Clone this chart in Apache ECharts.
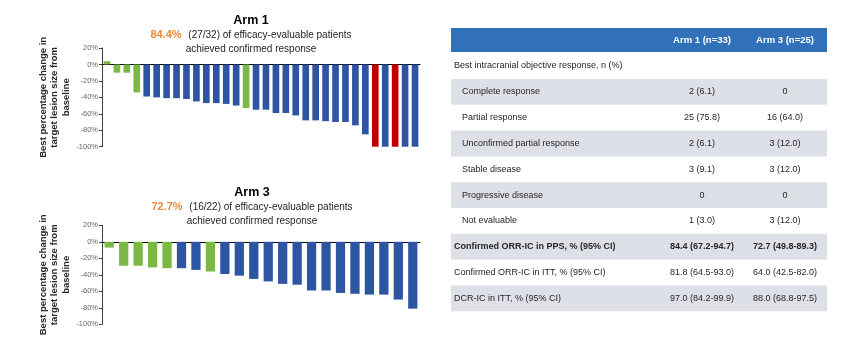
<!DOCTYPE html>
<html>
<head>
<meta charset="utf-8">
<script src="https://cdn.jsdelivr.net/npm/echarts@6/dist/echarts.min.js"></script>
<style>
  html, body { margin: 0; padding: 0; background: #fff; }
  #main { width: 850px; height: 353px; }
</style>
</head>
<body>
<div id="main"></div>
<script>
var mychart = echarts.init(document.getElementById('main'));

// Best % change per patient, sorted (waterfall)
var arm1Values = [4, -10, -10, -34, -39, -40, -41, -41, -42, -45, -47, -47, -48, -50, -53, -55,
  -55, -59, -59, -62, -68, -68, -69, -70, -70, -74, -85, -100, -100, -100, -100, -100];
var arm1Resp = ['NR', 'NR', 'NR', 'NR', 'PR', 'PR', 'PR', 'PR', 'PR', 'PR', 'PR', 'PR', 'PR', 'PR', 'NR', 'PR',
  'PR', 'PR', 'PR', 'PR', 'PR', 'PR', 'PR', 'PR', 'PR', 'PR', 'PR', 'CR', 'PR', 'CR', 'PR', 'PR'];
var arm3Values = [-7, -29, -29, -31, -32, -32, -34, -36, -39, -41, -45, -48, -51, -52, -59, -59,
  -62, -63, -64, -64, -70, -81];
var arm3Resp = ['NR', 'NR', 'NR', 'NR', 'NR', 'PR', 'PR', 'NR', 'PR', 'PR', 'PR', 'PR', 'PR', 'PR', 'PR', 'PR',
  'PR', 'PR', 'PR', 'PR', 'PR', 'PR'];

var arm1Rate = '84.4%';
var arm1Frac = '(27/32)';
var arm3Rate = '72.7%';
var arm3Frac = '(16/22)';

// table
var colHeaders = ['Arm 1 (n=33)', 'Arm 3 (n=25)'];
var sectionLabel = 'Best intracranial objective response, n (%)';
var rowLabels = ['Complete response', 'Partial response', 'Unconfirmed partial response', 'Stable disease',
  'Progressive disease', 'Not evaluable', 'Confirmed ORR-IC in PPS, % (95% CI)',
  'Confirmed ORR-IC in ITT, % (95% CI)', 'DCR-IC in ITT, % (95% CI)'];
var arm1Col = ['2 (6.1)', '25 (75.8)', '2 (6.1)', '3 (9.1)', '0', '1 (3.0)', '84.4 (67.2-94.7)',
  '81.8 (64.5-93.0)', '97.0 (84.2-99.9)'];
var arm3Col = ['0', '16 (64.0)', '3 (12.0)', '3 (12.0)', '0', '3 (12.0)', '72.7 (49.8-89.3)',
  '64.0 (42.5-82.0)', '88.0 (68.8-97.5)'];
var subRows = 6; // first rows are indented sub-categories
var boldRows = [6];

var respColor = { NR: '#7cb944', PR: '#2e55a1', CR: '#c00000' };
var FONT = '"Liberation Sans", Arial, sans-serif';

function barData(values, resp) {
  return values.map(function (v, i) {
    return { value: v, itemStyle: { color: respColor[resp[i]] } };
  });
}
function cats(n) {
  var a = [];
  for (var i = 0; i < n; i++) a.push(String(i + 1));
  return a;
}

function yAxisFor(idx) {
  return {
    gridIndex: idx,
    type: 'value',
    min: -100,
    max: 20,
    interval: 20,
    name: 'Best percentage change in\ntarget lesion size from\nbaseline',
    nameLocation: 'middle',
    nameRotate: 90,
    nameGap: 30,
    nameTextStyle: { fontFamily: FONT, fontSize: 9.5, fontWeight: 'bold', color: '#262626', lineHeight: 11.5 },
    axisLine: { show: true, lineStyle: { color: '#404040', width: 1 } },
    axisTick: { show: true, length: 3, lineStyle: { color: '#404040' } },
    axisLabel: { formatter: '{value}%', fontFamily: FONT, fontSize: 7.5, color: '#666', margin: 4 },
    splitLine: { show: false }
  };
}
function xAxisFor(idx, n) {
  return {
    gridIndex: idx,
    type: 'category',
    data: cats(n),
    axisLine: { onZero: true, lineStyle: { color: '#000', width: 1.2 } },
    axisTick: { show: false },
    axisLabel: { show: false }
  };
}

function titleGroup(cx, y, arm, rate, frac) {
  return [
    { type: 'text', style: { x: cx, y: y, text: arm, align: 'center', verticalAlign: 'middle',
      font: 'bold 12.5px ' + FONT, fill: '#000' } },
    { type: 'text', style: { x: cx, y: y + 14,
      text: '{o|' + rate + '}  {n|' + frac + ' of efficacy-evaluable patients}',
      align: 'center', verticalAlign: 'middle',
      rich: {
        o: { font: 'bold 11px ' + FONT, fill: '#e98a3c' },
        n: { font: '10px ' + FONT, fill: '#262626' }
      } } },
    { type: 'text', style: { x: cx, y: y + 28, text: 'achieved confirmed response',
      align: 'center', verticalAlign: 'middle', font: '10px ' + FONT, fill: '#262626' } }
  ];
}

// table graphics
function tableGraphics() {
  var g = [];
  var x0 = 451, x1 = 827, c1 = 702, c2 = 785;
  var top = 28, headH = 24, rowH = 25.8;
  var fs = '9px ';
  g.push({ type: 'rect', shape: { x: x0, y: top, width: x1 - x0, height: headH }, style: { fill: '#3071b9' } });
  g.push({ type: 'text', style: { x: c1, y: top + headH / 2, text: colHeaders[0], align: 'center',
    verticalAlign: 'middle', font: 'bold 9.5px ' + FONT, fill: '#fff' } });
  g.push({ type: 'text', style: { x: c2, y: top + headH / 2, text: colHeaders[1], align: 'center',
    verticalAlign: 'middle', font: 'bold 9.5px ' + FONT, fill: '#fff' } });
  var y = top + headH;
  g.push({ type: 'text', style: { x: x0 + 3, y: y + 13.5, text: sectionLabel, verticalAlign: 'middle',
    font: fs + FONT, fill: '#262626' } });
  y += 27;
  for (var i = 0; i < rowLabels.length; i++) {
    if (i % 2 === 0) {
      g.push({ type: 'rect', shape: { x: x0, y: y, width: x1 - x0, height: rowH }, style: { fill: '#dde0e7' } });
    }
    var f = (boldRows.indexOf(i) >= 0 ? 'bold ' : '') + fs + FONT;
    var cy = y + rowH / 2;
    g.push({ type: 'text', style: { x: i < subRows ? x0 + 11 : x0 + 3, y: cy, text: rowLabels[i],
      verticalAlign: 'middle', font: f, fill: '#262626' } });
    g.push({ type: 'text', style: { x: c1, y: cy, text: arm1Col[i], align: 'center', verticalAlign: 'middle',
      font: f, fill: '#262626' } });
    g.push({ type: 'text', style: { x: c2, y: cy, text: arm3Col[i], align: 'center', verticalAlign: 'middle',
      font: f, fill: '#262626' } });
    y += rowH;
  }
  return g;
}

var option = {
  animation: false,
  grid: [
    { left: 102, top: 48, width: 318, height: 98.7 },
    { left: 102, top: 225.3, width: 318, height: 99 }
  ],
  xAxis: [xAxisFor(0, arm1Values.length), xAxisFor(1, arm3Values.length)],
  yAxis: [yAxisFor(0), yAxisFor(1)],
  series: [
    { type: 'bar', xAxisIndex: 0, yAxisIndex: 0, barCategoryGap: '33%', data: barData(arm1Values, arm1Resp) },
    { type: 'bar', xAxisIndex: 1, yAxisIndex: 1, barCategoryGap: '36%', data: barData(arm3Values, arm3Resp) }
  ],
  graphic: [].concat(
    titleGroup(251, 21, 'Arm 1', arm1Rate, arm1Frac),
    titleGroup(252, 193, 'Arm 3', arm3Rate, arm3Frac),
    tableGraphics()
  )
};

mychart.setOption(option);
</script>
</body>
</html>
